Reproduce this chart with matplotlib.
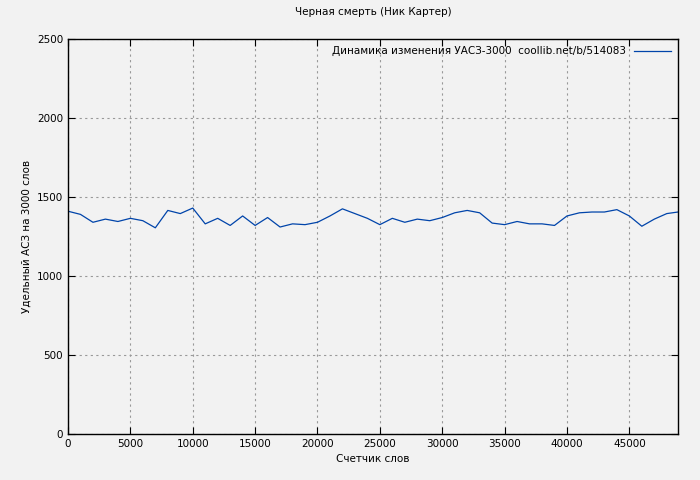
import matplotlib
matplotlib.use("Agg")
import matplotlib.pyplot as plt

x = list(range(0, 49000, 1000)) + [48900]
y = [1410,1390,1340,1360,1345,1365,1350,1305,1415,1395,1430,1330,1365,1320,1380,1320,1370,1310,1330,1325,
     1340,1380,1425,1395,1365,1325,1365,1340,1360,1350,1370,1400,1415,1400,1335,1325,1345,1330,1330,1320,
     1380,1400,1405,1405,1420,1380,1315,1360,1395,1405]
x_ticks = list(range(0, 50000, 5000))
y_ticks = list(range(0, 2501, 500))

plt.rcParams['font.family'] = ['DejaVu Sans']
plt.rcParams['font.size'] = 7.5
fig = plt.figure(figsize=(7, 4.8), dpi=100, facecolor='#f2f2f2')
ax = fig.add_axes([68/700, 46/480, 610/700, 395/480])
ax.set_facecolor('#f2f2f2')
ax.plot(x, y, color='#0044aa', lw=0.9, label='Динамика изменения УАСЗ-3000  coollib.net/b/514083')
ax.set_xlim(0, 48900)
ax.set_ylim(0, 2500)
ax.set_xticks(x_ticks)
ax.set_yticks(y_ticks)
ax.grid(True, color='#999999', linestyle=(0, (2, 3)), lw=0.8)
ax.tick_params(direction='in', length=5, top=True, right=True, labelsize=7.5)
for s in ax.spines.values():
    s.set_linewidth(1)
ax.set_title('Черная смерть (Ник Картер)', fontsize=7.5, pad=17)
ax.set_xlabel('Счетчик слов', fontsize=7.5, labelpad=4)
ax.set_ylabel('Удельный АСЗ на 3000 слов', fontsize=7.5)
ax.legend(loc='upper right', frameon=False, markerfirst=False, fontsize=7.5, handlelength=3.5, borderaxespad=0.3)
fig.savefig('out.png', dpi=100, facecolor='#f2f2f2')
